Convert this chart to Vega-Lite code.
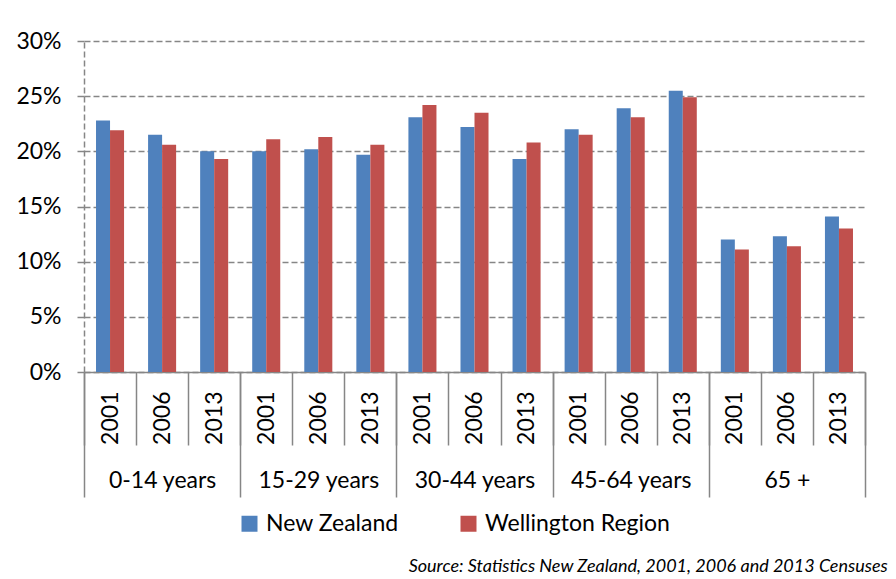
{
  "$schema": "https://vega.github.io/schema/vega-lite/v6.json",
  "width": 781,
  "height": 331,
  "autosize": {"type": "none"},
  "padding": {"left": 84, "top": 41, "right": 31, "bottom": 207},
  "background": "white",
  "config": {
    "font": "Lato",
    "view": {"stroke": null},
    "axis": {"labelColor": "black", "labelFont": "Lato", "labelFontSize": 23}
  },
  "title": {
    "text": "Source: Statistics New Zealand, 2001, 2006 and 2013 Censuses",
    "orient": "bottom",
    "anchor": "end",
    "font": "Lato",
    "fontStyle": "italic",
    "fontWeight": "normal",
    "fontSize": 18,
    "color": "black",
    "offset": 22,
    "dx": 22
  },
  "data": {
    "values": [
      {"group": "0-14 years", "year": "2001", "cat": "0-14 years|2001", "series": "New Zealand", "value": 22.8},
      {"group": "0-14 years", "year": "2001", "cat": "0-14 years|2001", "series": "Wellington Region", "value": 21.9},
      {"group": "0-14 years", "year": "2006", "cat": "0-14 years|2006", "series": "New Zealand", "value": 21.5},
      {"group": "0-14 years", "year": "2006", "cat": "0-14 years|2006", "series": "Wellington Region", "value": 20.6},
      {"group": "0-14 years", "year": "2013", "cat": "0-14 years|2013", "series": "New Zealand", "value": 20.0},
      {"group": "0-14 years", "year": "2013", "cat": "0-14 years|2013", "series": "Wellington Region", "value": 19.3},
      {"group": "15-29 years", "year": "2001", "cat": "15-29 years|2001", "series": "New Zealand", "value": 20.0},
      {"group": "15-29 years", "year": "2001", "cat": "15-29 years|2001", "series": "Wellington Region", "value": 21.1},
      {"group": "15-29 years", "year": "2006", "cat": "15-29 years|2006", "series": "New Zealand", "value": 20.2},
      {"group": "15-29 years", "year": "2006", "cat": "15-29 years|2006", "series": "Wellington Region", "value": 21.3},
      {"group": "15-29 years", "year": "2013", "cat": "15-29 years|2013", "series": "New Zealand", "value": 19.7},
      {"group": "15-29 years", "year": "2013", "cat": "15-29 years|2013", "series": "Wellington Region", "value": 20.6},
      {"group": "30-44 years", "year": "2001", "cat": "30-44 years|2001", "series": "New Zealand", "value": 23.1},
      {"group": "30-44 years", "year": "2001", "cat": "30-44 years|2001", "series": "Wellington Region", "value": 24.2},
      {"group": "30-44 years", "year": "2006", "cat": "30-44 years|2006", "series": "New Zealand", "value": 22.2},
      {"group": "30-44 years", "year": "2006", "cat": "30-44 years|2006", "series": "Wellington Region", "value": 23.5},
      {"group": "30-44 years", "year": "2013", "cat": "30-44 years|2013", "series": "New Zealand", "value": 19.3},
      {"group": "30-44 years", "year": "2013", "cat": "30-44 years|2013", "series": "Wellington Region", "value": 20.8},
      {"group": "45-64 years", "year": "2001", "cat": "45-64 years|2001", "series": "New Zealand", "value": 22.0},
      {"group": "45-64 years", "year": "2001", "cat": "45-64 years|2001", "series": "Wellington Region", "value": 21.5},
      {"group": "45-64 years", "year": "2006", "cat": "45-64 years|2006", "series": "New Zealand", "value": 23.9},
      {"group": "45-64 years", "year": "2006", "cat": "45-64 years|2006", "series": "Wellington Region", "value": 23.1},
      {"group": "45-64 years", "year": "2013", "cat": "45-64 years|2013", "series": "New Zealand", "value": 25.5},
      {"group": "45-64 years", "year": "2013", "cat": "45-64 years|2013", "series": "Wellington Region", "value": 24.9},
      {"group": "65 +", "year": "2001", "cat": "65 +|2001", "series": "New Zealand", "value": 12.0},
      {"group": "65 +", "year": "2001", "cat": "65 +|2001", "series": "Wellington Region", "value": 11.1},
      {"group": "65 +", "year": "2006", "cat": "65 +|2006", "series": "New Zealand", "value": 12.3},
      {"group": "65 +", "year": "2006", "cat": "65 +|2006", "series": "Wellington Region", "value": 11.4},
      {"group": "65 +", "year": "2013", "cat": "65 +|2013", "series": "New Zealand", "value": 14.1},
      {"group": "65 +", "year": "2013", "cat": "65 +|2013", "series": "Wellington Region", "value": 13.0}
    ]
  },
  "layer": [
    {
      "mark": {"type": "bar"},
      "encoding": {
        "x": {
          "field": "cat",
          "type": "nominal",
          "sort": null,
          "scale": {"paddingInner": 0, "paddingOuter": 0},
          "axis": {
            "orient": "bottom",
            "title": null,
            "grid": false,
            "domain": true,
            "domainColor": "#868686",
            "domainWidth": 1.5,
            "ticks": true,
            "tickBand": "extent",
            "tickSize": 73,
            "tickColor": "#868686",
            "tickWidth": 1.5,
            "labelAngle": -90,
            "labelPadding": -54,
            "labelOverlap": false,
            "labelExpr": "split(datum.label, '|')[1]"
          }
        },
        "xOffset": {
          "field": "series",
          "type": "nominal",
          "sort": ["New Zealand", "Wellington Region"],
          "scale": {"paddingInner": 0, "paddingOuter": 0.857}
        },
        "y": {
          "field": "value",
          "type": "quantitative",
          "scale": {"domain": [0, 30], "nice": false},
          "axis": {
            "title": null,
            "values": [0, 5, 10, 15, 20, 25, 30],
            "labelExpr": "datum.value + '%'",
            "labelPadding": 16,
            "domain": true,
            "domainColor": "#868686",
            "domainWidth": 1.5,
            "domainDash": [6, 3],
            "ticks": true,
            "tickSize": 7,
            "tickColor": "#868686",
            "tickWidth": 1.5,
            "grid": true,
            "gridColor": "#868686",
            "gridWidth": 1.5,
            "gridDash": [6, 3],
            "gridOpacity": 1
          }
        },
        "color": {
          "field": "series",
          "type": "nominal",
          "sort": ["New Zealand", "Wellington Region"],
          "scale": {"range": ["#4F81BD", "#C0504D"]},
          "legend": {
            "title": null,
            "orient": "none",
            "direction": "horizontal",
            "legendX": 154,
            "legendY": 471,
            "symbolType": "square",
            "symbolSize": 256,
            "symbolStrokeWidth": 0,
            "symbolOpacity": 1,
            "labelFont": "Lato",
            "labelFontSize": 23,
            "labelColor": "black",
            "labelOffset": 5,
            "columnPadding": 58,
            "labelLimit": 400
          }
        }
      }
    },
    {
      "mark": {"type": "bar", "opacity": 0},
      "encoding": {
        "x": {
          "field": "group",
          "type": "nominal",
          "sort": ["0-14 years", "15-29 years", "30-44 years", "45-64 years", "65 +"],
          "scale": {"paddingInner": 0, "paddingOuter": 0},
          "axis": {
            "orient": "bottom",
            "offset": 0,
            "title": null,
            "grid": false,
            "domain": false,
            "ticks": true,
            "tickBand": "extent",
            "tickSize": 125,
            "tickColor": "#868686",
            "tickWidth": 1.5,
            "labelAngle": 0,
            "labelPadding": -28,
            "labelOverlap": false
          }
        },
        "y": {"field": "value", "type": "quantitative"}
      }
    }
  ],
  "resolve": {"scale": {"x": "independent"}}
}
